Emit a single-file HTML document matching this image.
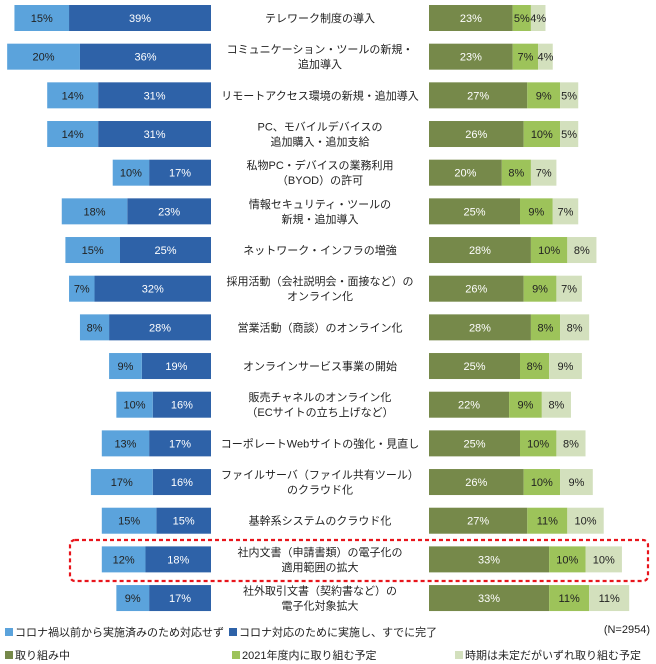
<!DOCTYPE html>
<html><head><meta charset="utf-8">
<style>
html,body{margin:0;padding:0;background:#fff;}
svg{display:block;font-family:"Liberation Sans","Noto Sans CJK JP",sans-serif;}
</style></head>
<body>
<svg id="chart" width="656" height="664" viewBox="0 0 656 664">
<rect x="70" y="540" width="578" height="41" rx="5" fill="none" stroke="#e8141b" stroke-width="2.2" stroke-dasharray="4,3"/>
<g id="bars"></g>
<g font-size="11" fill="#222">
 <g><rect x="5" y="628" width="8" height="8" fill="#5ba3dc"/><text x="15" y="636">コロナ禍以前から実施済みのため対応せず</text></g>
 <g><rect x="229" y="628" width="8" height="8" fill="#2e62a8"/><text x="239" y="636">コロナ対応のために実施し、すでに完了</text></g>
 <g><rect x="5" y="651" width="8" height="8" fill="#76894a"/><text x="15" y="659">取り組み中</text></g>
 <g><rect x="232" y="651" width="8" height="8" fill="#9dc35a"/><text x="242" y="659">2021年度内に取り組む予定</text></g>
 <g><rect x="455" y="651" width="8" height="8" fill="#d3e0bd"/><text x="465" y="659">時期は未定だがいずれ取り組む予定</text></g>
 <text x="650" y="633" text-anchor="end">(N=2954)</text>
</g>
</svg>
<script>
const categories = [
 ["テレワーク制度の導入"],
 ["コミュニケーション・ツールの新規・","追加導入"],
 ["リモートアクセス環境の新規・追加導入"],
 ["PC、モバイルデバイスの","追加購入・追加支給"],
 ["私物PC・デバイスの業務利用","（BYOD）の許可"],
 ["情報セキュリティ・ツールの","新規・追加導入"],
 ["ネットワーク・インフラの増強"],
 ["採用活動（会社説明会・面接など）の","オンライン化"],
 ["営業活動（商談）のオンライン化"],
 ["オンラインサービス事業の開始"],
 ["販売チャネルのオンライン化","（ECサイトの立ち上げなど）"],
 ["コーポレートWebサイトの強化・見直し"],
 ["ファイルサーバ（ファイル共有ツール）","のクラウド化"],
 ["基幹系システムのクラウド化"],
 ["社内文書（申請書類）の電子化の","適用範囲の拡大"],
 ["社外取引文書（契約書など）の","電子化対象拡大"]
];
const beforeCovid = [15,20,14,14,10,18,15,7,8,9,10,13,17,15,12,9];
const doneCovid   = [39,36,31,31,17,23,25,32,28,19,16,17,16,15,18,17];
const inProgress  = [23,23,27,26,20,25,28,26,28,25,22,25,26,27,33,33];
const planned2021 = [5,7,9,10,8,9,10,9,8,8,9,10,10,11,10,11];
const undecided   = [4,4,5,5,7,7,8,7,8,9,8,8,9,10,10,11];

const NS="http://www.w3.org/2000/svg";
const g=document.getElementById('bars');
const scale=3.64, leftEnd=211, rightStart=429, top0=18, step=38.67, bh=26;
const xs=v=>v*scale;
const yc=i=>top0+i*step;
function rect(x,y,w,h,fill){const r=document.createElementNS(NS,'rect');r.setAttribute('x',x);r.setAttribute('y',y);r.setAttribute('width',w);r.setAttribute('height',h);r.setAttribute('fill',fill);g.appendChild(r);return r;}
function txt(x,y,s,fill,anchor){const t=document.createElementNS(NS,'text');t.setAttribute('x',x);t.setAttribute('y',y);t.setAttribute('font-size','11');t.setAttribute('fill',fill);t.setAttribute('text-anchor',anchor||'middle');t.textContent=s;g.appendChild(t);return t;}
categories.forEach((lines,i)=>{
 const c=yc(i), y=c-bh/2;
 const wd=xs(doneCovid[i]), wb=xs(beforeCovid[i]);
 let r=rect(leftEnd-wd,y,wd,bh,'#2e62a8');
 
 
 txt(leftEnd-wd/2,c+4,doneCovid[i]+'%','#fff');
 r=rect(leftEnd-wd-wb,y,wb,bh,'#5ba3dc');
 
 
 txt(leftEnd-wd-wb/2,c+4,beforeCovid[i]+'%','#222');
 let x=rightStart;
 const segs=[[inProgress,'#76894a','#fff','bar-in-progress-'],[planned2021,'#9dc35a','#222','bar-planned-'],[undecided,'#d3e0bd','#222','bar-undecided-']];
 segs.forEach(s=>{
  const w=xs(s[0][i]);
  const rr=rect(x,y,w,bh,s[1]);
  
  
  txt(x+w/2,c+4,s[0][i]+'%',s[2]);
  x+=w;
 });
 const n=lines.length;
 lines.forEach((l,k)=>{
  const t=txt(320,c+4+(k-(n-1)/2)*15,l,'#222');
  
  
 });
});
</script>
</body></html>
